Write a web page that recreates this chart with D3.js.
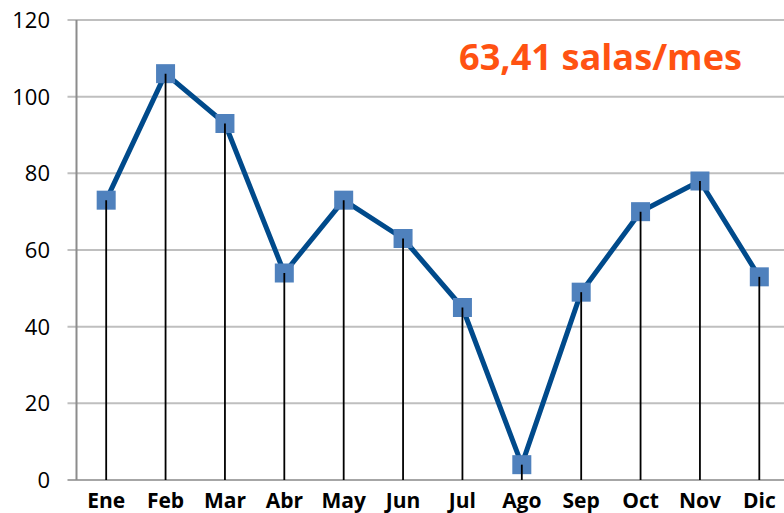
<!DOCTYPE html>
<html>
<head>
<meta charset="utf-8">
<script src="https://cdn.jsdelivr.net/npm/d3@7"></script>
<style>
  html, body { margin: 0; padding: 0; background: #fff; }
  svg { display: block; }
</style>
</head>
<body>
<svg id="chart" width="784" height="513"></svg>
<script>
const months = ['Ene', 'Feb', 'Mar', 'Abr', 'May', 'Jun', 'Jul', 'Ago', 'Sep', 'Oct', 'Nov', 'Dic']
const salas = [73, 106, 93, 54, 73, 63, 45, 4, 49, 70, 78, 53]
const yTicks = [0, 20, 40, 60, 80, 100, 120]
const titleText = '63,41 salas/mes'

const svg = d3.select('#chart')
const plotLeft = 76.5,
  plotRight = 789,
  plotTop = 20,
  plotBottom = 480

const x = d3.scaleBand().domain(months).range([plotLeft, plotRight])
const y = d3.scaleLinear().domain([0, 120]).range([plotBottom, plotTop])
const cx = (m) => x(m) + x.bandwidth() / 2

// gridlines
svg.append('g')
  .selectAll('line')
  .data(yTicks)
  .join('line')
  .attr('x1', plotLeft - 9)
  .attr('x2', 784)
  .attr('y1', (d) => y(d))
  .attr('y2', (d) => y(d))
  .attr('stroke', (d) => (d === 0 ? '#a6a6a6' : '#bfbfbf'))
  .attr('stroke-width', 2)

// y axis line
svg.append('line')
  .attr('x1', plotLeft).attr('x2', plotLeft)
  .attr('y1', plotTop).attr('y2', plotBottom)
  .attr('stroke', '#8c8c8c')
  .attr('stroke-width', 2)

// y labels
svg.append('g')
  .selectAll('text')
  .data(yTicks)
  .join('text')
  .attr('x', 50)
  .attr('y', (d) => y(d))
  .attr('dy', '0.36em')
  .attr('text-anchor', 'end')
  .attr('font-family', 'Open Sans, sans-serif')
  .attr('font-size', 22)
  .attr('fill', '#000')
  .text((d) => d)

// x labels
svg.append('g')
  .selectAll('text')
  .data(months)
  .join('text')
  .attr('x', (d) => cx(d))
  .attr('y', 508)
  .attr('text-anchor', 'middle')
  .attr('font-family', 'Open Sans, sans-serif')
  .attr('font-weight', 'bold')
  .attr('font-size', 21)
  .attr('fill', '#000')
  .text((d) => d)

const pts = months.map((m, i) => ({ m, v: salas[i] }))

// line
svg.append('path')
  .datum(pts)
  .attr('fill', 'none')
  .attr('stroke', '#004a8b')
  .attr('stroke-width', 5)
  .attr('stroke-linejoin', 'round')
  .attr('d', d3.line().x((d) => cx(d.m)).y((d) => y(d.v)))

// markers
const ms = 19
svg.append('g')
  .selectAll('rect')
  .data(pts)
  .join('rect')
  .attr('x', (d) => cx(d.m) - ms / 2)
  .attr('y', (d) => y(d.v) - ms / 2)
  .attr('width', ms)
  .attr('height', ms)
  .attr('fill', '#4f81bd')

// drop lines
svg.append('g')
  .selectAll('line')
  .data(pts)
  .join('line')
  .attr('x1', (d) => cx(d.m))
  .attr('x2', (d) => cx(d.m))
  .attr('y1', (d) => y(d.v))
  .attr('y2', y(0))
  .attr('stroke', '#000')
  .attr('stroke-width', 1.8)

// title
svg.append('text')
  .attr('x', 459)
  .attr('y', 70)
  .attr('font-family', 'Open Sans, sans-serif')
  .attr('font-weight', 'bold')
  .attr('font-size', 36)
  .attr('fill', '#ff5212')
  .attr('textLength', 283)
  .attr('lengthAdjust', 'spacingAndGlyphs')
  .text(titleText)
</script>
</body>
</html>
